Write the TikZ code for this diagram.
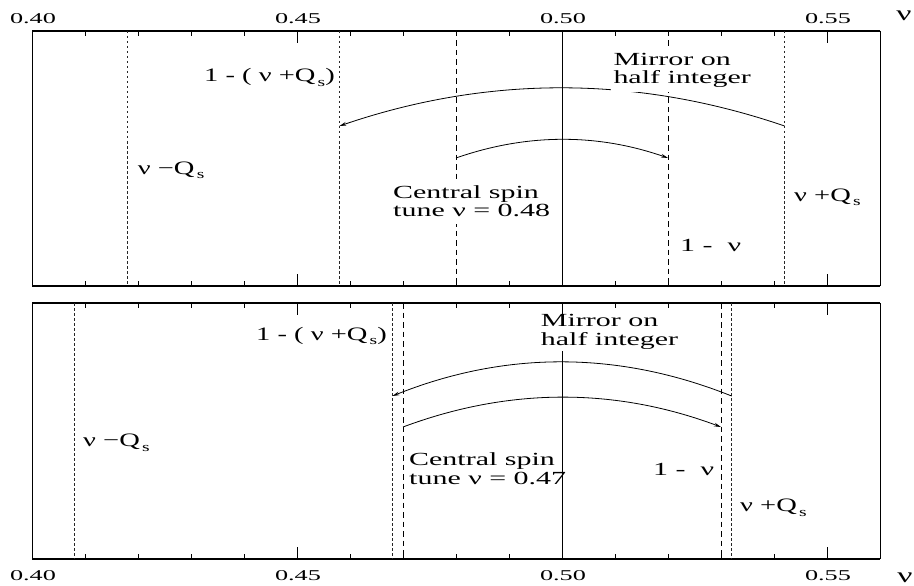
\documentclass[tikz,border=0pt]{standalone}
\usepackage{fontspec}
\setmainfont{Liberation Serif}
\usepackage{graphicx}
\usetikzlibrary{arrows.meta}
\newcommand{\hs}[1]{\scalebox{1.62}[1]{#1}}
\newcommand{\ms}[1]{\scalebox{1.5}[1]{#1}}
\newcommand{\tks}[1]{\scalebox{1.75}[1]{#1}}
\newcommand{\sbs}[1]{\hspace{1.5pt}\raisebox{-0.55ex}{\fontsize{13}{13}\selectfont #1}}
\newcommand{\twol}[2]{\hs{\begin{tabular}[t]{@{}l@{}}#1\\#2\end{tabular}}}
\tikzset{
  dotline/.style={line width=0.6pt, dash pattern=on 2.5pt off 2.5pt, black!85},
  dashline/.style={line width=0.7pt, dash pattern=on 5.5pt off 4pt},
  solidline/.style={line width=0.7pt},
  arcline/.style={line width=0.8pt, -{Stealth[length=7pt,width=3.6pt]}},
  txt/.style={font=\fontsize{18.5}{18.5}\selectfont, inner sep=0pt, anchor=base west},
  mth/.style={font=\fontsize{19}{20}\selectfont, inner sep=0pt, anchor=base west},
  cover/.style={fill=white, inner sep=3pt},
  ticklab/.style={font=\fontsize{15}{15}\selectfont, inner sep=0pt, anchor=base},
  nulab/.style={font=\fontsize{21}{22}\selectfont, inner sep=0pt, anchor=base},
  frame/.style={line width=0.8pt},
  topaxis/.style={line width=1.1pt},
  botaxis/.style={line width=1.6pt},
}
\begin{document}
\begin{tikzpicture}[x=1pt,y=-1pt]
\useasboundingbox (0,0) rectangle (914,586);

% panels: frames and ticks
\foreach \ya/\yb in {31/286, 303/559}{
  \draw[frame] (32,\yb) -- (32,\ya);
  \draw[frame] (880,\ya) -- (880,\yb);
  \draw[topaxis] (32,\ya) -- (880,\ya);
  \draw[botaxis] (32,\yb) -- (880,\yb);
  \foreach \i in {1,2,3,4,6,7,8,9,11,12,13,14}{
    \draw[frame] (32+53*\i,\ya) -- ++(0,5);
    \draw[frame] (32+53*\i,\yb) -- ++(0,-5);
  }
  \foreach \i in {5,10,15}{
    \draw[frame] (32+53*\i,\ya) -- ++(0,12);
    \draw[frame] (32+53*\i,\yb) -- ++(0,-12);
  }
}

% tick labels
\foreach \v/\xx in {0.40/32, 0.45/297, 0.50/562, 0.55/827}{
  \node[ticklab] at (\xx+1,24) {\tks{\v}};
  \node[ticklab] at (\xx+1,580) {\tks{\v}};
}
\node[nulab] (nutop) at (904,21) {\scalebox{1.6}[1]{ν}};
\node[nulab] (nubot) at (905,582) {\scalebox{1.6}[1]{ν}};

% ---------------- top panel (nu = 0.48) ----------------
\draw[dotline] (127.4,31) -- (127.4,286);
\draw[dotline] (339.4,31) -- (339.4,286);
\draw[dotline] (784.6,31) -- (784.6,286);
\draw[dashline] (456,31) -- (456,286);
\draw[dashline] (668,31) -- (668,286);
\draw[solidline] (562,31) -- (562,286);

\coordinate (A1s) at (784.6,126);
\coordinate (A1e) at (339.4,126);
\draw[arcline] (A1s) .. controls (636.2,75.3) and (487.8,75.3) .. (A1e);
\coordinate (A2s) at (456,158);
\coordinate (A2e) at (668,158);
\draw[arcline] (A2s) .. controls (526.7,133.3) and (597.3,133.3) .. (A2e);

\node[mth] (tQa) at (204,82) {\ms{1 - ( ν +Q\sbs{s})}};
\node[mth] (tQb) at (137.7,174) {\ms{ν −Q\sbs{s}}};
\node[txt, cover] (tCen) at (390,198.3) {\fontsize{18.5}{17.7}\selectfont\twol{Central spin}{tune ν = 0.48}};
\node[txt] (tOne) at (680,251) {\hs{1 -\ \ ν}};
\node[mth] (tQc) at (794,201) {\ms{ν +Q\sbs{s}}};
\node[txt, cover] (tMir) at (610.3,65.7) {\fontsize{18.5}{16.8}\selectfont\twol{Mirror on}{half integer}};

% ---------------- bottom panel (nu = 0.47) ----------------
\draw[dotline] (74.4,303) -- (74.4,559);
\draw[dotline] (392.4,303) -- (392.4,559);
\draw[dotline] (731.6,303) -- (731.6,559);
\draw[dashline] (403,303) -- (403,559);
\draw[dashline] (721,303) -- (721,559);
\draw[solidline] (562,351) -- (562,559);

\coordinate (B1s) at (731.6,396);
\coordinate (B1e) at (392.4,396);
\draw[arcline] (B1s) .. controls (618.5,350.7) and (505.5,350.7) .. (B1e);
\coordinate (B2s) at (403,427);
\coordinate (B2e) at (721,427);
\draw[arcline] (B2s) .. controls (509,387.4) and (615,387.4) .. (B2e);

\node[mth] (bQa) at (256,340) {\ms{1 - ( ν +Q\sbs{s})}};
\node[mth] (bQb) at (83,446.7) {\ms{ν −Q\sbs{s}}};
\node[txt] (bCen) at (409,465) {\fontsize{18.5}{19}\selectfont\twol{Central spin}{tune ν = 0.47}};
\node[txt] (bOne) at (653,475) {\hs{1 -\ \ ν}};
\node[mth] (bQc) at (740,511.7) {\ms{ν +Q\sbs{s}}};
\node[txt] (bMir) at (540.7,326.7) {\fontsize{18.5}{18.3}\selectfont\twol{Mirror on}{half integer}};
\end{tikzpicture}
\end{document}
